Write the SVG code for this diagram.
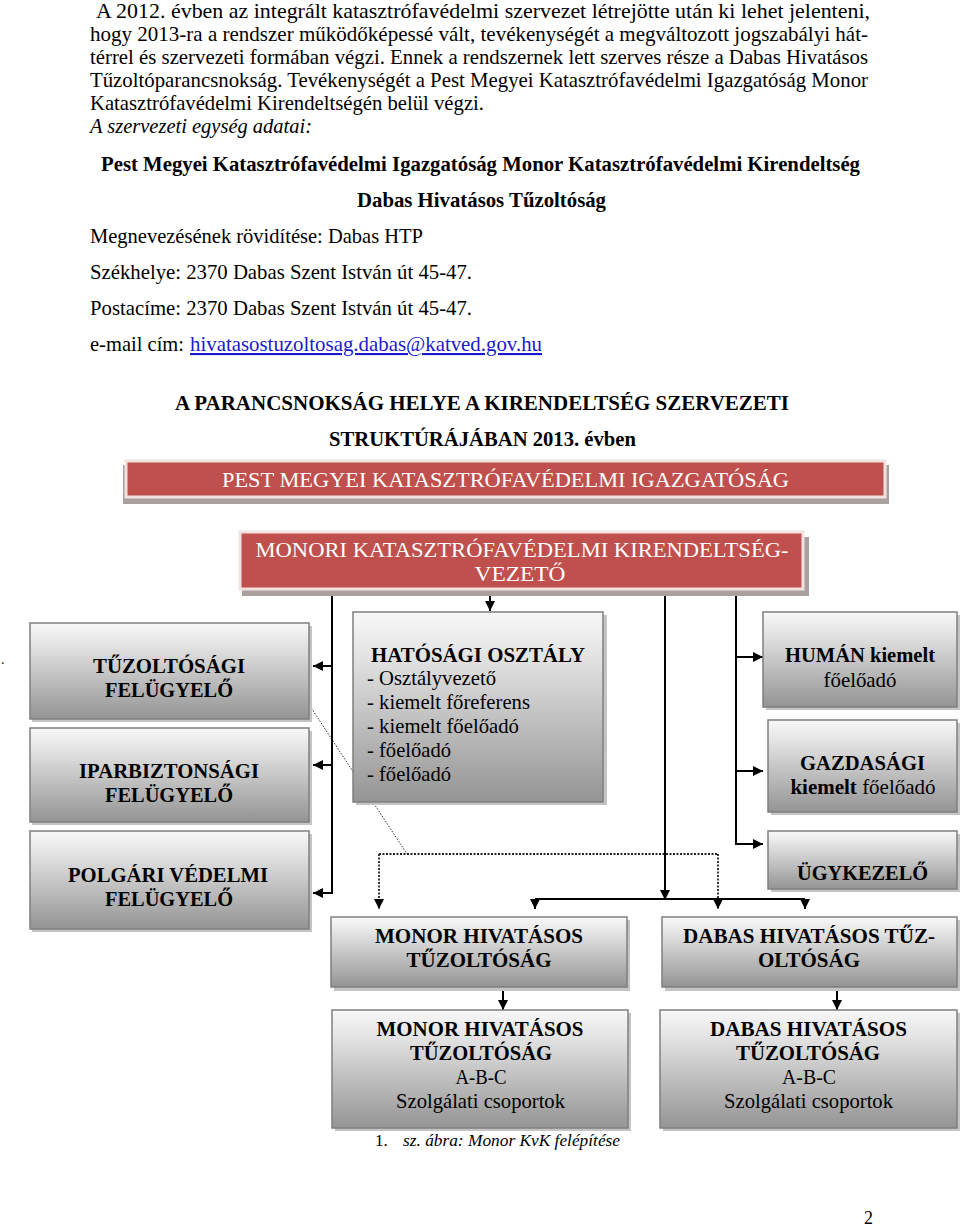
<svg xmlns="http://www.w3.org/2000/svg" width="960" height="1226" viewBox="0 0 960 1226">
<style>
.t{font-family:"Liberation Serif","Times New Roman",serif;font-size:21px;fill:#000}
.b{font-weight:bold}
.i{font-style:italic}
.w{fill:#fff}
.m{text-anchor:middle}
.lk{fill:#1a1acc;text-decoration:underline}
.box{fill:url(#gg);stroke:#7f7f7f;stroke-width:1.5}
.sh{fill:#c4c4c4}
.red{fill:#C0504D;stroke:#F4E2E1;stroke-width:3}
.rsh{fill:#aaa0a0}
.ln{fill:none;stroke:#000;stroke-width:2}
.dt{fill:none;stroke:#222;stroke-width:1.8;stroke-dasharray:2 1.5}
.dd{fill:none;stroke:#333;stroke-width:1;stroke-dasharray:1.5 1.5}
</style>
<defs>
<linearGradient id="gg" x1="0" y1="0" x2="0" y2="1">
<stop offset="0" stop-color="#f8f8f8"/>
<stop offset="0.2" stop-color="#e6e6e6"/>
<stop offset="1" stop-color="#949494"/>
</linearGradient>
<marker id="ah" viewBox="0 0 10 10" refX="10" refY="5" markerWidth="11" markerHeight="10" markerUnits="userSpaceOnUse" orient="auto">
<path d="M0,0 L10,5 L0,10 z" fill="#000"/>
</marker>
</defs>
<rect width="960" height="1226" fill="#fff"/>

<g id="intro">
<text class="t" x="96" y="18" textLength="774" lengthAdjust="spacingAndGlyphs">A 2012. évben az integrált katasztrófavédelmi szervezet létrejötte után ki lehet jelenteni,</text>
<text class="t" x="90" y="41" textLength="778" lengthAdjust="spacingAndGlyphs">hogy 2013-ra a rendszer működőképessé vált, tevékenységét a megváltozott jogszabályi hát-</text>
<text class="t" x="90" y="64" textLength="778" lengthAdjust="spacingAndGlyphs">térrel és szervezeti formában végzi. Ennek a rendszernek lett szerves része a Dabas Hivatásos</text>
<text class="t" x="90" y="87" textLength="778" lengthAdjust="spacingAndGlyphs">Tűzoltóparancsnokság. Tevékenységét a Pest Megyei Katasztrófavédelmi Igazgatóság Monor</text>
<text class="t" x="90" y="110" textLength="394" lengthAdjust="spacingAndGlyphs">Katasztrófavédelmi Kirendeltségén belül végzi.</text>
<text class="t i" x="90" y="133" textLength="222" lengthAdjust="spacingAndGlyphs">A szervezeti egység adatai:</text>
<text class="t b" x="101" y="171" textLength="759" lengthAdjust="spacingAndGlyphs">Pest Megyei Katasztrófavédelmi Igazgatóság Monor Katasztrófavédelmi Kirendeltség</text>
<text class="t b" x="357" y="207" textLength="249" lengthAdjust="spacingAndGlyphs">Dabas Hivatásos Tűzoltóság</text>
<text class="t" x="90" y="243" textLength="333" lengthAdjust="spacingAndGlyphs">Megnevezésének rövidítése: Dabas HTP</text>
<text class="t" x="90" y="279" textLength="382" lengthAdjust="spacingAndGlyphs">Székhelye: 2370 Dabas Szent István út 45-47.</text>
<text class="t" x="90" y="315" textLength="382" lengthAdjust="spacingAndGlyphs">Postacíme: 2370 Dabas Szent István út 45-47.</text>
<text class="t" x="90" y="351" textLength="94" lengthAdjust="spacingAndGlyphs">e-mail cím:</text>
<text class="t lk" x="190" y="351" textLength="352" lengthAdjust="spacingAndGlyphs">hivatasostuzoltosag.dabas@katved.gov.hu</text>
<text class="t b" x="175" y="410" textLength="614" lengthAdjust="spacingAndGlyphs">A PARANCSNOKSÁG HELYE A KIRENDELTSÉG SZERVEZETI</text>
<text class="t b" x="329" y="446" textLength="307" lengthAdjust="spacingAndGlyphs">STRUKTÚRÁJÁBAN 2013. évben</text>
<text class="t" x="1" y="664" style="font-size:14px">.</text>
</g>

<g id="connectors">
<path class="dd" d="M308,703 L407,854"/>
<path class="dt" d="M379,854 H718"/>
<path class="dt" d="M379,854 V909" marker-end="url(#ah)"/>
<path class="dt" d="M718,854 V909" marker-end="url(#ah)"/>
<path class="ln" d="M332,591 V893 H313" marker-end="url(#ah)"/>
<path class="ln" d="M332,666 H313" marker-end="url(#ah)"/>
<path class="ln" d="M332,765 H313" marker-end="url(#ah)"/>
<path class="ln" d="M490,591 V611" marker-end="url(#ah)"/>
<path class="ln" d="M665,591 V900" marker-end="url(#ah)"/>
<path class="ln" d="M535,899 H805"/>
<path class="ln" d="M535,899 V909" marker-end="url(#ah)"/>
<path class="ln" d="M805,899 V909" marker-end="url(#ah)"/>
<path class="ln" d="M736,591 V844 H763" marker-end="url(#ah)"/>
<path class="ln" d="M736,657 H763" marker-end="url(#ah)"/>
<path class="ln" d="M736,771 H763" marker-end="url(#ah)"/>
<path class="ln" d="M503,988 V1010" marker-end="url(#ah)"/>
<path class="ln" d="M837,988 V1010" marker-end="url(#ah)"/>
</g>

<g id="n-pest">
<rect class="rsh" x="123" y="465" width="766" height="39"/>
<rect class="red" x="126" y="461" width="759" height="36"/>
<text class="t w m" x="505.5" y="487" textLength="567" lengthAdjust="spacingAndGlyphs">PEST MEGYEI KATASZTRÓFAVÉDELMI IGAZGATÓSÁG</text>
</g>

<g id="n-monori">
<rect class="rsh" x="242" y="537" width="567" height="59"/>
<rect class="red" x="240" y="532" width="563" height="57"/>
<text class="t w m" x="522" y="557" textLength="533" lengthAdjust="spacingAndGlyphs">MONORI KATASZTRÓFAVÉDELMI KIRENDELTSÉG-</text>
<text class="t w m" x="520" y="581" textLength="91" lengthAdjust="spacingAndGlyphs">VEZETŐ</text>
</g>

<g id="n-tuzoltosagi">
<rect class="sh" x="32" y="626" width="280" height="96"/>
<rect class="box" x="30" y="623" width="279" height="96"/>
<text class="t b m" x="169" y="673" textLength="152" lengthAdjust="spacingAndGlyphs">TŰZOLTÓSÁGI</text>
<text class="t b m" x="169" y="697" textLength="128" lengthAdjust="spacingAndGlyphs">FELÜGYELŐ</text>
</g>

<g id="n-iparbiztonsagi">
<rect class="sh" x="32" y="731" width="280" height="94"/>
<rect class="box" x="30" y="728" width="279" height="94"/>
<text class="t b m" x="169" y="778" textLength="180" lengthAdjust="spacingAndGlyphs">IPARBIZTONSÁGI</text>
<text class="t b m" x="169" y="802" textLength="128" lengthAdjust="spacingAndGlyphs">FELÜGYELŐ</text>
</g>

<g id="n-polgari">
<rect class="sh" x="32" y="834" width="280" height="98"/>
<rect class="box" x="30" y="831" width="279" height="98"/>
<text class="t b m" x="168" y="882" textLength="200" lengthAdjust="spacingAndGlyphs">POLGÁRI VÉDELMI</text>
<text class="t b m" x="169" y="906" textLength="128" lengthAdjust="spacingAndGlyphs">FELÜGYELŐ</text>
</g>

<g id="n-hatosagi">
<rect class="sh" x="356" y="615" width="251" height="190"/>
<rect class="box" x="353" y="612" width="250" height="190"/>
<text class="t b m" x="478" y="662" textLength="214" lengthAdjust="spacingAndGlyphs">HATÓSÁGI OSZTÁLY</text>
<text class="t" x="367" y="685" textLength="129" lengthAdjust="spacingAndGlyphs">- Osztályvezető</text>
<text class="t" x="367" y="709" textLength="163" lengthAdjust="spacingAndGlyphs">- kiemelt főreferens</text>
<text class="t" x="367" y="733" textLength="152" lengthAdjust="spacingAndGlyphs">- kiemelt főelőadó</text>
<text class="t" x="367" y="757" textLength="84" lengthAdjust="spacingAndGlyphs">- főelőadó</text>
<text class="t" x="367" y="781" textLength="84" lengthAdjust="spacingAndGlyphs">- főelőadó</text>
</g>

<g id="n-human">
<rect class="sh" x="766" y="615" width="194" height="95"/>
<rect class="box" x="763" y="612" width="194" height="95"/>
<text class="t b m" x="860" y="662" textLength="150" lengthAdjust="spacingAndGlyphs">HUMÁN kiemelt</text>
<text class="t m" x="860" y="687" textLength="73" lengthAdjust="spacingAndGlyphs">főelőadó</text>
</g>

<g id="n-gazdasagi">
<rect class="sh" x="771" y="723" width="189" height="92"/>
<rect class="box" x="768" y="720" width="189" height="92"/>
<text class="t b m" x="862.5" y="770" textLength="125" lengthAdjust="spacingAndGlyphs">GAZDASÁGI</text>
<text class="t m" x="863" y="794"><tspan class="b">kiemelt</tspan> főelőadó</text>
</g>

<g id="n-ugykezelo">
<rect class="sh" x="771" y="834" width="189" height="58"/>
<rect class="box" x="768" y="831" width="189" height="58"/>
<text class="t b m" x="862.5" y="880" textLength="131" lengthAdjust="spacingAndGlyphs">ÜGYKEZELŐ</text>
</g>

<g id="n-monor-htp">
<rect class="sh" x="334" y="920" width="296" height="71"/>
<rect class="box" x="331" y="917" width="296" height="70"/>
<text class="t b m" x="479" y="943" textLength="208" lengthAdjust="spacingAndGlyphs">MONOR HIVATÁSOS</text>
<text class="t b m" x="479" y="967" textLength="145" lengthAdjust="spacingAndGlyphs">TŰZOLTÓSÁG</text>
</g>

<g id="n-dabas-htp">
<rect class="sh" x="665" y="920" width="296" height="71"/>
<rect class="box" x="662" y="917" width="295" height="70"/>
<text class="t b m" x="809" y="943" textLength="252" lengthAdjust="spacingAndGlyphs">DABAS HIVATÁSOS TŰZ-</text>
<text class="t b m" x="809" y="967" textLength="102" lengthAdjust="spacingAndGlyphs">OLTÓSÁG</text>
</g>

<g id="n-monor-abc">
<rect class="sh" x="335" y="1013" width="296" height="118"/>
<rect class="box" x="332" y="1010" width="296" height="118"/>
<text class="t b m" x="480" y="1036" textLength="207" lengthAdjust="spacingAndGlyphs">MONOR HIVATÁSOS</text>
<text class="t b m" x="481" y="1060" textLength="142" lengthAdjust="spacingAndGlyphs">TŰZOLTÓSÁG</text>
<text class="t m" x="481" y="1084" textLength="51" lengthAdjust="spacingAndGlyphs">A-B-C</text>
<text class="t m" x="480.5" y="1108" textLength="169" lengthAdjust="spacingAndGlyphs">Szolgálati csoportok</text>
</g>

<g id="n-dabas-abc">
<rect class="sh" x="663" y="1013" width="297" height="118"/>
<rect class="box" x="660" y="1010" width="297" height="118"/>
<text class="t b m" x="808.5" y="1036" textLength="197" lengthAdjust="spacingAndGlyphs">DABAS HIVATÁSOS</text>
<text class="t b m" x="808" y="1060" textLength="144" lengthAdjust="spacingAndGlyphs">TŰZOLTÓSÁG</text>
<text class="t m" x="809" y="1084" textLength="54" lengthAdjust="spacingAndGlyphs">A-B-C</text>
<text class="t m" x="808.5" y="1108" textLength="169" lengthAdjust="spacingAndGlyphs">Szolgálati csoportok</text>
</g>

<g id="caption">
<text class="t" x="375" y="1146" style="font-size:17px">1.</text>
<text class="t i" x="403" y="1146" style="font-size:17px" textLength="217" lengthAdjust="spacingAndGlyphs">sz. ábra: Monor KvK felépítése</text>
<text class="t" x="864" y="1224" style="font-size:18px">2</text>
</g>
</svg>
